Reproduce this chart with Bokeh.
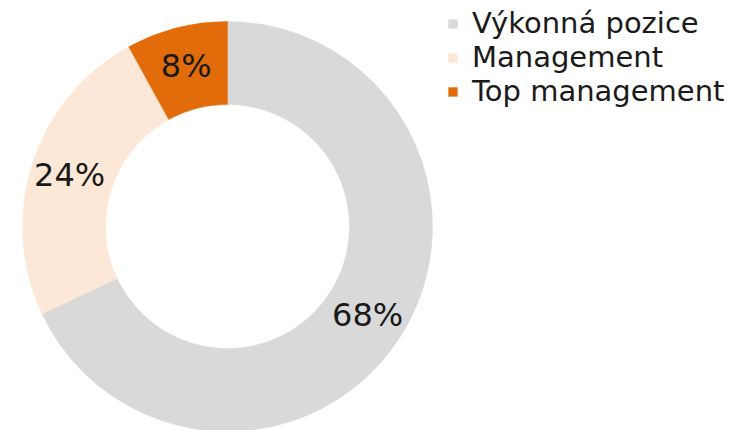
import math
from bokeh.plotting import figure
from bokeh.models import Range1d, ColumnDataSource, Legend, LegendItem
from bokeh.core.properties import value
from bokeh.embed import file_html
from bokeh.resources import INLINE

categories = ["Výkonná pozice", "Management", "Top management"]
shares = [68, 24, 8]
colors = ["#d9d9d9", "#fde8d7", "#e36c0a"]

W, H = 731, 430
p = figure(width=W, height=H, output_backend="svg", toolbar_location=None,
           x_range=Range1d(0, W), y_range=Range1d(430 - H, 430),
           min_border=0, outline_line_color=None)
p.axis.visible = False
p.grid.visible = False
p.background_fill_color = "white"

cx, cy = 227, 430 - 226
r_in, r_out = 122, 205
r_lab = 166

total = sum(shares)
starts, ends, lx, ly, labels = [], [], [], [], []
cum = 0.0
for s in shares:
    a0 = math.pi / 2 - 2 * math.pi * cum / total
    cum += s
    a1 = math.pi / 2 - 2 * math.pi * cum / total
    starts.append(a0)
    ends.append(a1)
    mid = (a0 + a1) / 2
    lx.append(cx + r_lab * math.cos(mid))
    ly.append(cy + r_lab * math.sin(mid))
    labels.append(f"{round(100 * s / total)}%")

src = ColumnDataSource(dict(cat=categories, start=starts, end=ends, color=colors,
                            x=[cx] * 3, y=[cy] * 3, lx=lx, ly=ly, lab=labels))

wedges = p.annular_wedge(x="x", y="y", inner_radius=r_in, outer_radius=r_out,
                         start_angle="start", end_angle="end", direction="clock",
                         fill_color="color", line_color="color", line_width=0.5,
                         source=src)

p.text(x="lx", y="ly", text="lab", source=src, text_align="center",
       text_baseline="middle", text_font=value("DejaVu Sans"),
       text_font_size="32px", text_color="#1a1a1a")

items = [LegendItem(label=c, renderers=[wedges], index=i) for i, c in enumerate(categories)]
legend = Legend(items=items, location=(447, 322), orientation="vertical",
                glyph_width=11, glyph_height=11, label_height=33, label_standoff=14,
                spacing=0, padding=0, margin=0, border_line_color=None,
                background_fill_alpha=0, label_text_font="DejaVu Sans",
                label_text_font_size="29px", label_text_color="#1a1a1a")
p.add_layout(legend, "center")

open("out.html", "w").write(file_html(p, INLINE))
